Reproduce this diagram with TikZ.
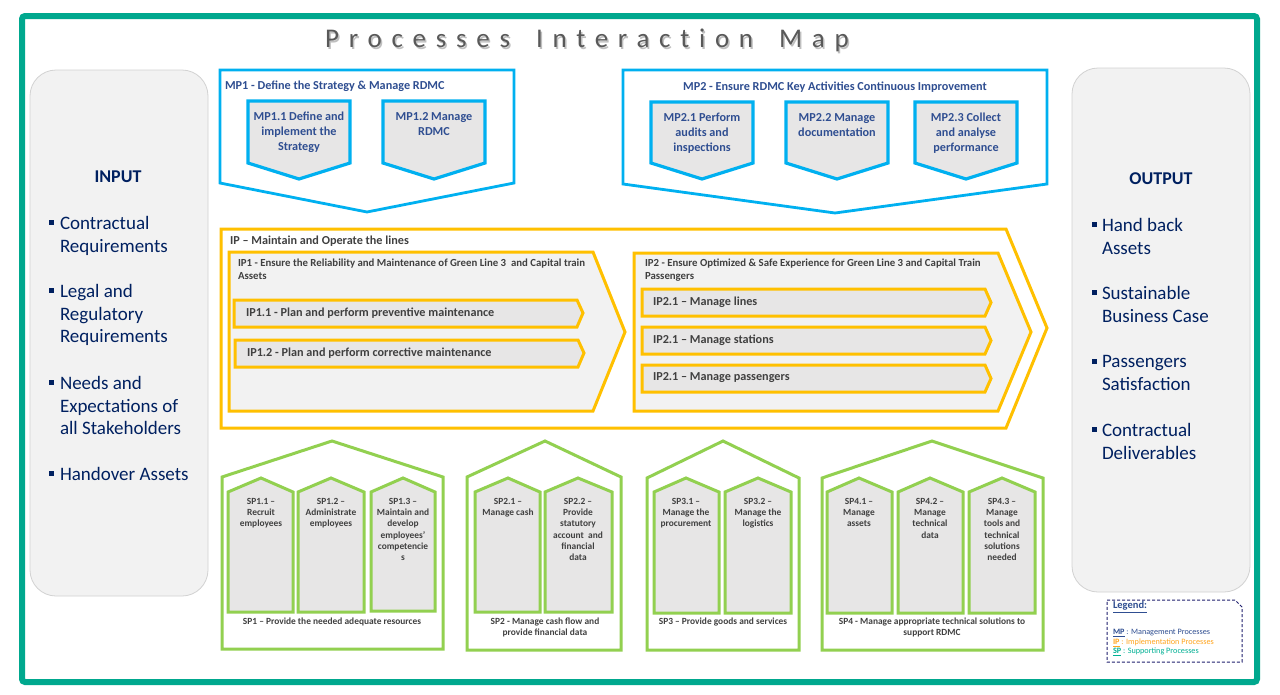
\documentclass[tikz,border=0pt]{standalone}
\usepackage{fontspec}
\setmainfont{Carlito}
\newcommand\szf[2]{\fontsize{#1}{#2}\selectfont}
\definecolor{frameteal}{RGB}{0,168,142}
\definecolor{mpblue}{RGB}{0,176,240}
\definecolor{ipyellow}{RGB}{255,192,0}
\definecolor{spgreen}{RGB}{146,208,80}
\definecolor{boxgrey}{RGB}{231,230,230}
\definecolor{panelgrey}{RGB}{242,242,242}
\definecolor{panelline}{RGB}{210,210,210}
\definecolor{navytxt}{RGB}{0,32,96}
\definecolor{mptext}{RGB}{47,78,145}
\definecolor{iptext}{RGB}{64,64,64}
\definecolor{titlegrey}{RGB}{89,89,89}
\definecolor{legorange}{RGB}{255,165,30}
\definecolor{legteal}{RGB}{0,176,148}
\definecolor{legline}{RGB}{31,31,110}
\tikzset{
  every node/.style={inner sep=0pt, outer sep=0pt},
  frameline/.style={draw=frameteal, line width=6pt, rounded corners=3pt},
  sidepanel/.style={draw=panelline, fill=panelgrey, line width=0.8pt, rounded corners=26pt},
  mpouter/.style={draw=mpblue, line width=2.8pt},
  mpinner/.style={draw=mpblue, line width=3.2pt, fill=boxgrey},
  ipouter/.style={draw=ipyellow, line width=3pt},
  ipgroup/.style={draw=ipyellow, line width=3pt, fill=panelgrey},
  ipbar/.style={draw=ipyellow, line width=3pt, fill=boxgrey},
  spouter/.style={draw=spgreen, line width=3pt},
  spinner/.style={draw=spgreen, line width=3pt, fill=boxgrey},
  mphead/.style={text=mptext, font=\bfseries\szf{12.2}{15}},
  mptxt/.style={text=mptext, font=\bfseries\szf{12.2}{15}, align=center, anchor=north},
  iphead/.style={text=iptext, font=\bfseries\szf{12.2}{14}, anchor=west},
  ipgrouptxt/.style={text=iptext, font=\bfseries\szf{10.8}{13}, align=left, anchor=north west},
  ipbartxt/.style={text=iptext, font=\bfseries\szf{12.2}{14}, anchor=west},
  sptxt/.style={text=iptext, font=\bfseries\szf{9.4}{11.3}, align=center, anchor=north},
  sidehead/.style={text=navytxt, font=\bfseries\szf{18}{22}},
  sideitem/.style={text=navytxt, font=\szf{19}{22.5}, align=left, anchor=north west},
  bulletsq/.style={fill=navytxt, minimum size=5pt},
  legtxt/.style={font=\szf{8.2}{9}, anchor=west},
  titletxt/.style={font=\szf{27}{30}\addfontfeatures{LetterSpace=36,Ligatures=NoCommon}},
}
\newcommand\titlegap{\hspace{26pt}}
\begin{document}
\begin{tikzpicture}[x=1pt, y=-1pt, line join=miter]
\useasboundingbox (0,0) rectangle (1280,694);
\fill[white] (0,0) rectangle (1280,694);

% outer frame
\draw[frameline] (22,16) rectangle (1257,682);

% title with its drop shadow
\node[titletxt, text=black!25] (titleshadow) at (588.5,42.5) {Processes\titlegap Interaction\titlegap Map};
\node[titletxt, text=titlegrey] (title) at (587,40) {Processes\titlegap Interaction\titlegap Map};

% input and output panels
\draw[sidepanel] (30,70) rectangle (208,596);
\draw[sidepanel] (1072,68) rectangle (1250,592);

\node[sidehead] (inhead) at (118,177) {INPUT};
\node[bulletsq] (inb1) at (51,222) {};
\node[sideitem] (in1) at (60,216.5) {Contractual\\Requirements};
\node[bulletsq] (inb2) at (51,290) {};
\node[sideitem] (in2) at (60,284.5) {Legal and\\Regulatory\\Requirements};
\node[bulletsq] (inb3) at (51,382) {};
\node[sideitem] (in3) at (60,376.5) {Needs and\\Expectations of\\all Stakeholders};
\node[bulletsq] (inb4) at (51,473) {};
\node[sideitem] (in4) at (60,467.5) {Handover Assets};

\node[sidehead] (outhead) at (1161,179) {OUTPUT};
\node[bulletsq] (outb1) at (1094,224) {};
\node[sideitem] (out1) at (1102,218.5) {Hand back\\Assets};
\node[bulletsq] (outb2) at (1094,292) {};
\node[sideitem] (out2) at (1102,286.5) {Sustainable\\Business Case};
\node[bulletsq] (outb3) at (1094,361) {};
\node[sideitem] (out3) at (1102,355.5) {Passengers\\Satisfaction};
\node[bulletsq] (outb4) at (1094,429) {};
\node[sideitem] (out4) at (1102,423.5) {Contractual\\Deliverables};

% management processes
\draw[mpouter] (220,70) -- (514,70) -- (514,183) -- (367,212) -- (220,183) -- cycle;
\node[mphead, anchor=west] (mp1) at (225,86) {MP1 - Define the Strategy \& Manage RDMC};
\draw[mpinner] (248,101) -- (350,101) -- (350,163) -- (299,179) -- (248,163) -- cycle;
\node[mptxt] (mp11) at (299,112) {MP1.1 Define and\\implement the\\Strategy};
\draw[mpinner] (383,101) -- (485,101) -- (485,163) -- (434,179) -- (383,163) -- cycle;
\node[mptxt] (mp12) at (434,112) {MP1.2 Manage\\RDMC};

\draw[mpouter] (623,70) -- (1047,70) -- (1047,184) -- (835,213) -- (623,184) -- cycle;
\node[mphead] (mp2) at (835,87) {MP2 - Ensure RDMC Key Activities Continuous Improvement};
\draw[mpinner] (651,102) -- (753,102) -- (753,163) -- (702,179) -- (651,163) -- cycle;
\node[mptxt] (mp21) at (702,113) {MP2.1 Perform\\audits and\\inspections};
\draw[mpinner] (786,102) -- (888,102) -- (888,163) -- (837,179) -- (786,163) -- cycle;
\node[mptxt] (mp22) at (837,113) {MP2.2 Manage\\documentation};
\draw[mpinner] (915,102) -- (1017,102) -- (1017,163) -- (966,179) -- (915,163) -- cycle;
\node[mptxt] (mp23) at (966,113) {MP2.3 Collect\\and analyse\\performance};

% implementation processes
\draw[ipouter] (221,229) -- (1006,229) -- (1047,328) -- (1006,428) -- (221,428) -- cycle;
\node[iphead] (ip) at (230,241) {IP – Maintain and Operate the lines};

\draw[ipgroup] (229,252) -- (593,252) -- (625,332) -- (593,411) -- (229,411) -- cycle;
\node[ipgrouptxt] (ip1) at (238,259) {IP1 - Ensure the Reliability and Maintenance of Green Line 3~ and Capital train\\Assets};
\draw[ipbar] (234,300) -- (577,300) -- (583,313) -- (577,327) -- (234,327) -- cycle;
\node[ipbartxt] (ip11) at (246,313) {IP1.1 - Plan and perform preventive maintenance};
\draw[ipbar] (235,340) -- (578,340) -- (584,353) -- (578,367) -- (235,367) -- cycle;
\node[ipbartxt] (ip12) at (247,353) {IP1.2 - Plan and perform corrective maintenance};

\draw[ipgroup] (634,253) -- (998,253) -- (1031,332) -- (998,411) -- (634,411) -- cycle;
\node[ipgrouptxt] (ip2) at (645,258.5) {IP2 - Ensure Optimized \& Safe Experience for Green Line 3 and Capital Train\\Passengers};
\draw[ipbar] (642,289) -- (985,289) -- (991,302.5) -- (985,316) -- (642,316) -- cycle;
\node[ipbartxt] (ip21) at (653,302) {IP2.1 – Manage lines};
\draw[ipbar] (642,327) -- (985,327) -- (991,340.5) -- (985,354) -- (642,354) -- cycle;
\node[ipbartxt] (ip22) at (653,340) {IP2.1 – Manage stations};
\draw[ipbar] (642,365) -- (985,365) -- (991,378.5) -- (985,392) -- (642,392) -- cycle;
\node[ipbartxt] (ip23) at (653,378) {IP2.1 – Manage passengers};

% supporting processes
\draw[spouter] (222,649) -- (222,477) -- (332,441) -- (443,477) -- (443,649) -- cycle;
\draw[spinner] (228,612) -- (228,492) -- (261,478) -- (293,492) -- (293,612) -- cycle;
\node[sptxt] (sp11) at (261,498) {SP1.1 –\\Recruit\\employees};
\draw[spinner] (298,612) -- (298,492) -- (331,478) -- (364,492) -- (364,612) -- cycle;
\node[sptxt] (sp12) at (331,498) {SP1.2 –\\Administrate\\employees};
\draw[spinner] (371,611) -- (371,492) -- (403,478) -- (435,492) -- (435,611) -- cycle;
\node[sptxt] (sp13) at (403,498) {SP1.3 –\\Maintain and\\develop\\employees'\\competencie\\s};
\node[sptxt] (sp1) at (332,617.5) {SP1 – Provide the needed adequate resources};

\draw[spouter] (467,650) -- (467,477) -- (545,441) -- (621,477) -- (621,650) -- cycle;
\draw[spinner] (475,612) -- (475,492) -- (508,478) -- (540,492) -- (540,612) -- cycle;
\node[sptxt] (sp21) at (508,498) {SP2.1 –\\Manage cash};
\draw[spinner] (545,612) -- (545,492) -- (578,478) -- (612,492) -- (612,612) -- cycle;
\node[sptxt] (sp22) at (578,498) {SP2.2 –\\Provide\\statutory\\account~ and\\financial\\data};
\node[sptxt] (sp2) at (545,617.5) {SP2 - Manage cash flow and\\provide financial data};

\draw[spouter] (647,650) -- (647,478) -- (723,441) -- (799,478) -- (799,650) -- cycle;
\draw[spinner] (654,613) -- (654,492) -- (686,478) -- (719,492) -- (719,613) -- cycle;
\node[sptxt] (sp31) at (686,498) {SP3.1 –\\Manage the\\procurement};
\draw[spinner] (725,613) -- (725,492) -- (758,478) -- (791,492) -- (791,613) -- cycle;
\node[sptxt] (sp32) at (758,498) {SP3.2 –\\Manage the\\logistics};
\node[sptxt] (sp3) at (723,617.5) {SP3 – Provide goods and services};

\draw[spouter] (822,650) -- (822,478) -- (932,441) -- (1043,478) -- (1043,650) -- cycle;
\draw[spinner] (827,613) -- (827,492) -- (859,478) -- (892,492) -- (892,613) -- cycle;
\node[sptxt] (sp41) at (859,498) {SP4.1 –\\Manage\\assets};
\draw[spinner] (898,613) -- (898,492) -- (930,478) -- (963,492) -- (963,613) -- cycle;
\node[sptxt] (sp42) at (930,498) {SP4.2 –\\Manage\\technical\\data};
\draw[spinner] (969,613) -- (969,492) -- (1002,478) -- (1035,492) -- (1035,613) -- cycle;
\node[sptxt] (sp43) at (1002,498) {SP4.3 –\\Manage\\tools and\\technical\\solutions\\needed};
\node[sptxt] (sp4) at (932,617.5) {SP4 - Manage appropriate technical solutions to\\support RDMC};

% legend
\draw[legline, line width=1pt, dash pattern=on 3pt off 2pt] (1107,600) -- (1235,600) -- (1242,607) -- (1242,662) -- (1107,662) -- cycle;
\node[legtxt, text=mptext, font=\bfseries\szf{10.5}{12}] (leghead) at (1113,607) {\underline{Legend:}};
\node[legtxt, text=mptext] (legmp) at (1113,633) {\underline{\textbf{MP}} : Management Processes};
\node[legtxt, text=legorange] (legip) at (1113,642.5) {\underline{\textbf{IP}} : Implementation Processes};
\node[legtxt, text=legteal] (legsp) at (1113,652) {\underline{\textbf{SP}} : Supporting Processes};
\end{tikzpicture}
\end{document}
